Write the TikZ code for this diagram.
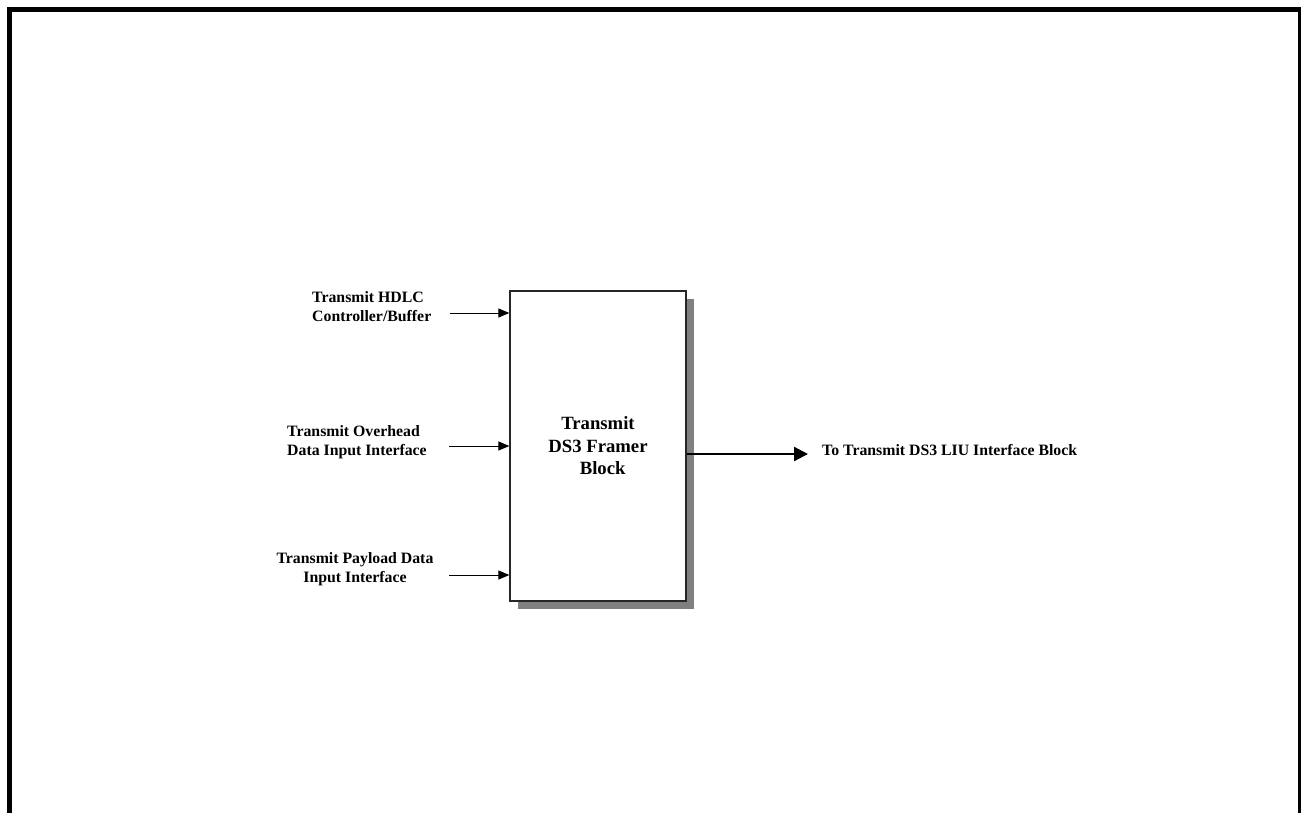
\documentclass[tikz,border=0pt]{standalone}
\usepackage{fontspec}
\setmainfont{Liberation Serif}
\usepackage{tikz}
\usetikzlibrary{arrows.meta, positioning, shadows, calc}
\tikzset{
  framerblock/.style={draw=black!85, line width=1.3pt, fill=white,
                      minimum width=176pt, minimum height=310pt,
                      align=center, inner sep=0pt,
                      font=\fontsize{18.7}{22.5}\selectfont\bfseries,
                      drop shadow={shadow xshift=8pt, shadow yshift=-8pt,
                                   fill=gray, opacity=1}},
  sidelabel/.style={inner sep=0pt, font=\fontsize{15.8}{19}\selectfont\bfseries},
  inarrow/.style={-{Triangle[length=11pt, width=9pt]}, line width=1pt},
  outarrow/.style={-{Triangle[length=14pt, width=14pt]}, line width=2.2pt},
}
\begin{document}
\begin{tikzpicture}[x=1pt, y=-1pt]
  \useasboundingbox (0,0) rectangle (1301,812);

  % outer frame
  \draw[line width=5pt] (9.5,9.5) rectangle (1300.5,816);

  % framer block
  \node[framerblock] (block) at (598,446)
    {Transmit\\DS3 Framer\\\ \ Block};

  % inputs
  \node[sidelabel, align=left, anchor=west] (hdlc) at (312,307)
    {Transmit HDLC\\Controller/Buffer};
  \node[sidelabel, align=left, anchor=west] (overhead) at (287,442)
    {Transmit Overhead\\Data Input Interface};
  \node[sidelabel, align=center] (payload) at (355,569)
    {Transmit Payload Data\\Input Interface};

  \coordinate (hdlcin) at (450,313);
  \coordinate (overheadin) at (449,446);
  \coordinate (payloadin) at (449,575);

  \draw[inarrow] (hdlcin) -- (hdlcin -| block.west);
  \draw[inarrow] (overheadin) -- (overheadin -| block.west);
  \draw[inarrow] (payloadin) -- (payloadin -| block.west);

  % output
  \coordinate (liuout) at (808,454);
  \node[sidelabel, anchor=west] (liu) at (822,450)
    {To Transmit DS3 LIU Interface Block};
  \draw[outarrow] (liuout -| block.east) -- (liuout);

\end{tikzpicture}
\end{document}
